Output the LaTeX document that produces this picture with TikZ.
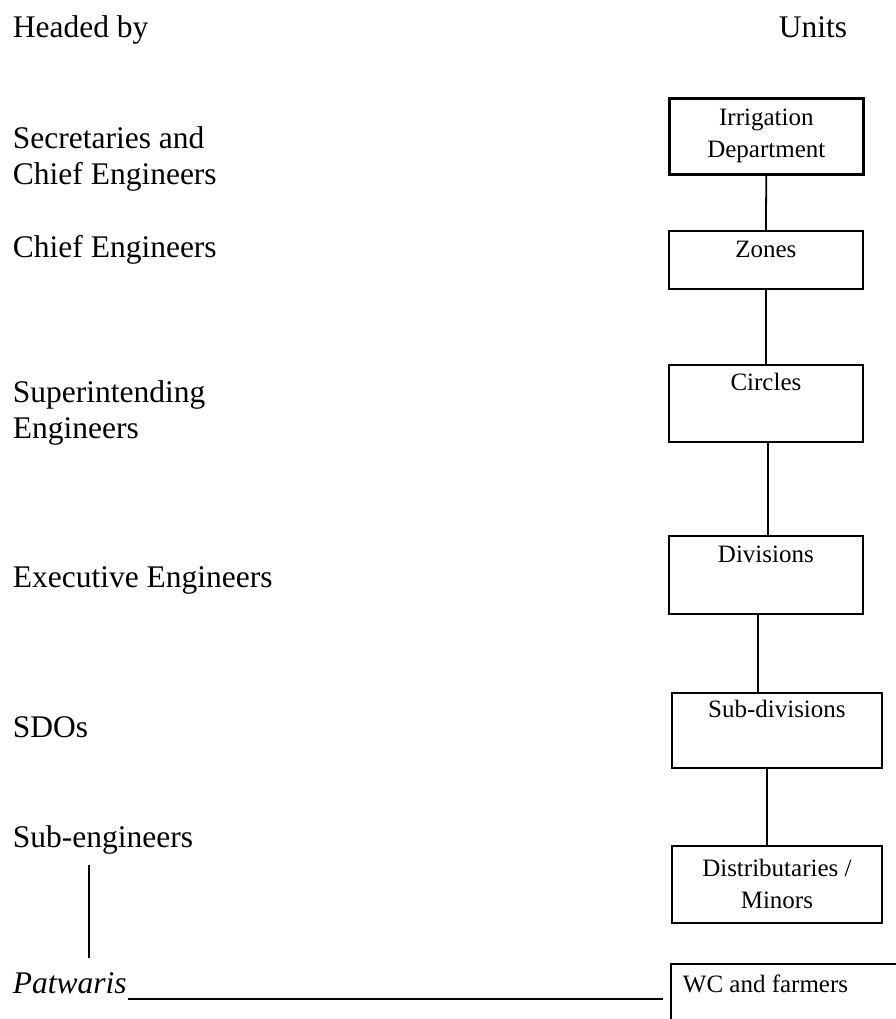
\documentclass[tikz,border=0pt]{standalone}
\usepackage{fontspec}
\setmainfont{Liberation Serif}
\begin{document}
\begin{tikzpicture}[x=1pt, y=-1pt]
	\tikzstyle{every path}=[line width=1.8pt]
	\tikzstyle{head}=[anchor=base west, inner sep=0pt, align=left, font=\fontsize{31.5}{36}\selectfont]
	\tikzstyle{unit}=[draw, rectangle, anchor=north west, inner sep=0pt, align=center,
		minimum width=194pt, font=\fontsize{25}{32}\selectfont]
	\useasboundingbox (0,0) rectangle (895,1019);

	% left column
	\node [head] (hby) at (12,38) {Headed by};
	\node [head] (sec) at (12,185) {Secretaries and\\Chief Engineers};
	\node [head] (ce) at (12,257) {Chief Engineers};
	\node [head] (se) at (12,438) {Superintending\\Engineers};
	\node [head] (ee) at (12,587) {Executive Engineers};
	\node [head] (sdo) at (12,737) {SDOs};
	\node [head] (sub) at (12,847) {Sub-engineers};
	\node [head, font=\fontsize{31.5}{36}\selectfont\itshape] (pat) at (12,993) {Patwaris};

	% right column
	\node [head] (units) at (778,38) {Units};
	\node [unit, line width=2.6pt, minimum height=76pt] (irr) at (668,97) {Irrigation\\Department};
	\node [unit, minimum height=58pt, text height=27pt, text depth=31pt] (zon) at (668,230) {Zones};
	\node [unit, minimum height=77pt, text height=26pt, text depth=51pt] (cir) at (668,364) {Circles};
	\node [unit, minimum height=78pt, text height=27pt, text depth=51pt] (div) at (668,535) {Divisions};
	\node [unit, minimum width=210pt, minimum height=75pt, text height=25pt, text depth=50pt] (sdv) at (671,692) {Sub-divisions};
	\node [unit, minimum width=210pt, minimum height=77pt] (dis) at (671,845) {Distributaries /\\Minors};
	\node [anchor=north west, inner sep=0pt, minimum width=224pt, minimum height=56pt] (wc) at (671,964) {};
	\node [anchor=base west, inner sep=0pt, font=\fontsize{25}{30}\selectfont] (wct) at (682,992) {WC and farmers};

	\draw (irr.south) -- (zon.north);
	\draw (zon.south) -- (cir.north);
	\draw ([xshift=2pt]cir.south) -- ([xshift=2pt]cir.south |- div.north);
	\draw ([xshift=-8pt]div.south) -- ([xshift=-8pt]div.south |- sdv.north);
	\draw ([xshift=-10pt]sdv.south) -- ([xshift=-10pt]sdv.south |- dis.north);
	\draw (wc.south west) -- (wc.north west) -- (wc.north east);

	\draw ([xshift=-14pt,yshift=-10pt]sub.south) -- ([xshift=-14pt,yshift=35pt]sub.south |- pat.base);
	\draw ([yshift=-6pt]pat.base east) -- ([xshift=-8pt,yshift=-6pt]wc.west |- pat.base);
\end{tikzpicture}
\end{document}
